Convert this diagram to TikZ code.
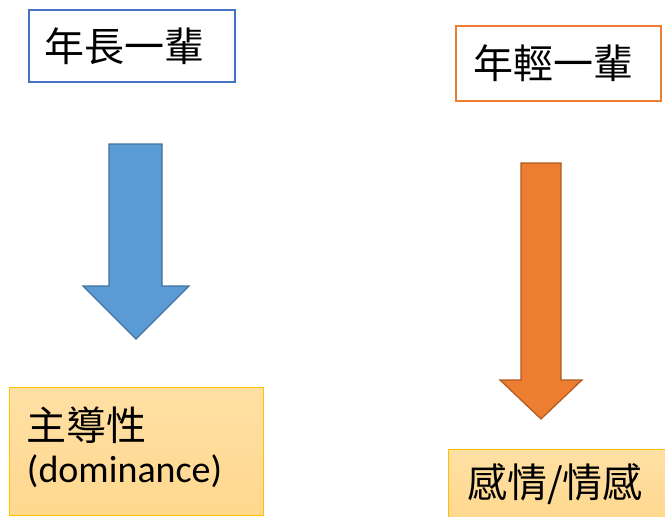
\documentclass[tikz,border=0pt]{standalone}
\usepackage{fontspec}
\setmainfont{Carlito}
\newfontfamily\cjk{Noto Sans CJK TC}
\definecolor{boxblue}{HTML}{4472C4}
\definecolor{boxorange}{HTML}{ED7D31}
\definecolor{arrblue}{HTML}{5B9BD5}
\definecolor{arrblueline}{HTML}{41719C}
\definecolor{arrorange}{HTML}{ED7D31}
\definecolor{arrorangeline}{HTML}{AE5A21}
\definecolor{goldfill}{HTML}{FFD88E}
\definecolor{goldline}{HTML}{FFC000}
\begin{document}
\begin{tikzpicture}[x=1pt,y=-1pt,
  bigtext/.style={font=\fontsize{38}{46}\selectfont},
  cjktext/.style={font=\fontsize{40}{46}\selectfont\cjk},
  genbox/.style={draw=#1, line width=1.5pt, fill=white, rectangle, inner ysep=0pt, align=left, cjktext},
  goldbox/.style={draw=goldline, line width=1pt, top color=goldfill!80!white, bottom color=goldfill, rectangle, inner ysep=0pt, align=left, bigtext},
  arrowshape/.style={line width=1.2pt, line join=miter}
]
\useasboundingbox (0,0) rectangle (665,517);

\node[genbox=boxblue, minimum width=206pt, minimum height=72pt, text width=174pt, inner xsep=16pt] (elder) at (132,46) {年長一輩};
\node[genbox=boxorange, minimum width=205pt, minimum height=75pt, text width=171pt, inner xsep=17pt] (young) at (558.5,63.5) {年輕一輩};

\node[goldbox, minimum width=254pt, minimum height=128pt, text width=218pt, inner xsep=18pt] (dom) at (136,451) {{\fontsize{40}{46}\selectfont\cjk 主導性}\\[-4pt](dominance)\\[-34pt]\mbox{}};
\node[goldbox, minimum width=220pt, minimum height=70pt, text width=182pt, inner xsep=19pt] (emo) at (558,484) {\fontsize{40}{46}\selectfont\cjk 感情/情感};

% blue down arrow
\draw[arrowshape, fill=arrblue, draw=arrblueline]
  (109,144) -- (162,144) -- (162,286) -- (189,286) -- (136,339) -- (83,286) -- (109,286) -- cycle;
% orange down arrow
\draw[arrowshape, fill=arrorange, draw=arrorangeline]
  (521,163) -- (561,163) -- (561,380) -- (582,380) -- (541,419) -- (500,380) -- (521,380) -- cycle;
\end{tikzpicture}
\end{document}
